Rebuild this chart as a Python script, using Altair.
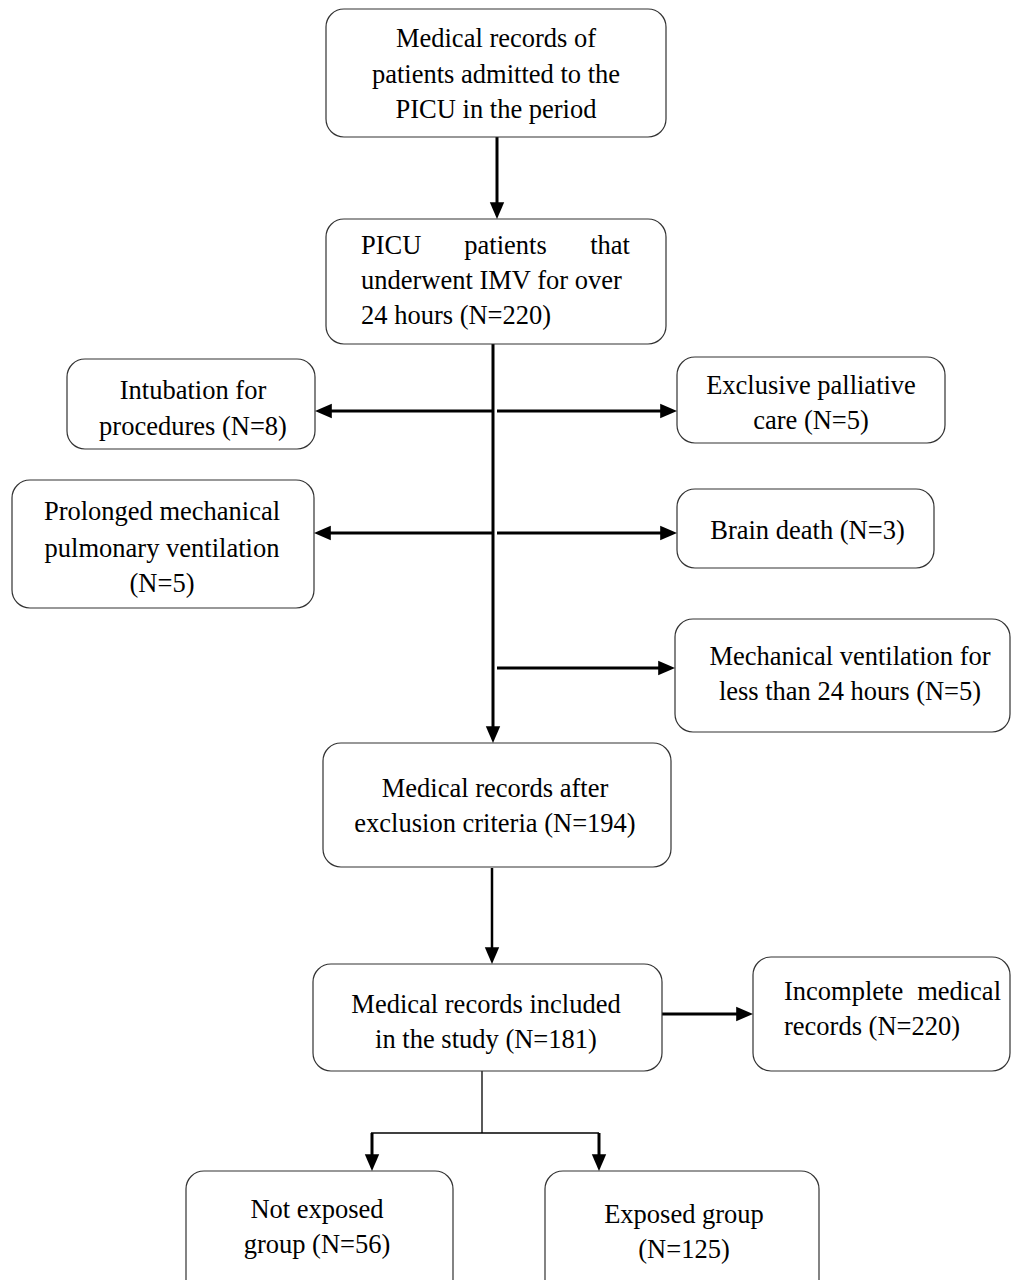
import altair as alt
import pandas as pd

# ---- plot frame (page pixel coordinates of the reference) ----
W, H = 1003, 1272
XDOM = [8, 8 + W]
YDOM = [8, 8 + H]

# ---- boxes ----
box_id = ["A", "B", "L1", "R1", "L2", "R2", "R3", "C", "D", "I", "NE", "E"]
box_x1 = [326, 326, 67, 677, 12, 677, 675, 323, 313, 753, 186, 545]
box_x2 = [666, 666, 315, 945, 314, 934, 1010, 671, 662, 1010, 453, 819]
box_y1 = [9, 219, 359, 357, 480, 489, 619, 743, 964, 957, 1171, 1171]
box_y2 = [137, 344, 449, 443, 608, 568, 732, 867, 1071, 1071, 1300, 1300]

# ---- text lines ----
center_text = [
    "Medical records of", "patients admitted to the", "PICU in the period",
    "patients",
    "Intubation for", "procedures (N=8)",
    "Exclusive palliative", "care (N=5)",
    "Prolonged mechanical", "pulmonary ventilation", "(N=5)",
    "Brain death (N=3)",
    "Mechanical ventilation for", "less than 24 hours (N=5)",
    "Medical records after", "exclusion criteria (N=194)",
    "Medical records included", "in the study (N=181)",
    "Not exposed", "group (N=56)",
    "Exposed group", "(N=125)",
]
center_x = [496, 496, 496, 505.5, 193, 193, 811, 811, 162, 162, 162, 807.5,
            850, 850, 495, 495, 486, 486, 317, 317, 684, 684]
center_y = [47, 83, 118, 254, 399, 435, 394, 429, 520, 557, 592, 539,
            665, 700, 797, 832, 1013, 1048, 1218, 1253, 1223, 1258]

left_text = ["PICU", "underwent IMV for over", "24 hours (N=220)",
             "Incomplete", "records (N=220)"]
left_x = [361, 361, 361, 784, 784]
left_y = [254, 289, 324, 1000, 1035]

right_text = ["that", "medical"]
right_x = [630, 1001]
right_y = [254, 1000]

# ---- connector segments ----
seg_x1 = [497, 493, 327, 497, 326, 497, 497, 492, 662, 482, 371, 372, 599]
seg_y1 = [137, 344, 411, 411, 533, 533, 668, 868, 1014, 1071, 1133, 1133, 1133]
seg_x2 = [497, 493, 493, 665, 493, 665, 663, 492, 742, 482, 599, 372, 599]
seg_y2 = [207, 733, 411, 411, 533, 533, 668, 954, 1014, 1133, 1133, 1161, 1161]
seg_w = [3, 3, 3, 3, 3, 3, 3, 2.5, 3, 1.3, 1.3, 3, 3]

# ---- arrowhead tips ----
down_x = [497, 493, 492, 372, 599]
down_y = [219, 743, 964, 1171, 1171]
right_x_tip = [677, 677, 675, 753]
right_y_tip = [411, 533, 668, 1014]
left_x_tip = [315, 314]
left_y_tip = [411, 533]

FONT = "Liberation Serif"
FS = 26.5

xs = alt.Scale(domain=XDOM, nice=False, zero=False)
ys = alt.Scale(domain=YDOM, nice=False, zero=False, reverse=True)

boxes = pd.DataFrame({"id": box_id, "x1": box_x1, "x2": box_x2, "y1": box_y1, "y2": box_y2})
segs = pd.DataFrame({"x1": seg_x1, "y1": seg_y1, "x2": seg_x2, "y2": seg_y2, "w": seg_w})
ctext = pd.DataFrame({"x": center_x, "y": center_y, "t": center_text})
ltext = pd.DataFrame({"x": left_x, "y": left_y, "t": left_text})
rtext = pd.DataFrame({"x": right_x, "y": right_y, "t": right_text})
dheads = pd.DataFrame({"x": down_x, "y": down_y})
rheads = pd.DataFrame({"x": right_x_tip, "y": right_y_tip})
lheads = pd.DataFrame({"x": left_x_tip, "y": left_y_tip})

lines = alt.Chart(segs).mark_rule(color="black", strokeCap="butt").encode(
    x=alt.X("x1:Q", scale=xs, axis=None),
    y=alt.Y("y1:Q", scale=ys, axis=None),
    x2="x2:Q",
    y2="y2:Q",
    strokeWidth=alt.StrokeWidth("w:Q", scale=None, legend=None),
)

rects = alt.Chart(boxes).mark_rect(
    fill="white", stroke="#333333", strokeWidth=1.2, cornerRadius=18
).encode(
    x=alt.X("x1:Q", scale=xs, axis=None),
    x2="x2:Q",
    y=alt.Y("y1:Q", scale=ys, axis=None),
    y2="y2:Q",
)


def text_layer(df, align):
    return alt.Chart(df).mark_text(
        font=FONT, fontSize=FS, color="black", align=align, baseline="alphabetic"
    ).encode(
        x=alt.X("x:Q", scale=xs, axis=None),
        y=alt.Y("y:Q", scale=ys, axis=None),
        text="t:N",
    )


def head_layer(df, path):
    return alt.Chart(df).mark_point(
        shape=path, filled=True, size=1024, color="black", opacity=1, strokeWidth=0
    ).encode(
        x=alt.X("x:Q", scale=xs, axis=None),
        y=alt.Y("y:Q", scale=ys, axis=None),
    )


chart = alt.layer(
    lines,
    rects,
    text_layer(ctext, "center"),
    text_layer(ltext, "left"),
    text_layer(rtext, "right"),
    head_layer(dheads, "M0,0L-0.45,-1.05L0.45,-1.05Z"),
    head_layer(rheads, "M0,0L-1.05,-0.45L-1.05,0.45Z"),
    head_layer(lheads, "M0,0L1.05,-0.45L1.05,0.45Z"),
).properties(
    width=W,
    height=H,
    padding=0,
    autosize=alt.AutoSizeParams(type="none"),
    background="white",
).configure_view(stroke=None)

chart.save("out.html", embed_options={"renderer": "svg", "actions": False})
